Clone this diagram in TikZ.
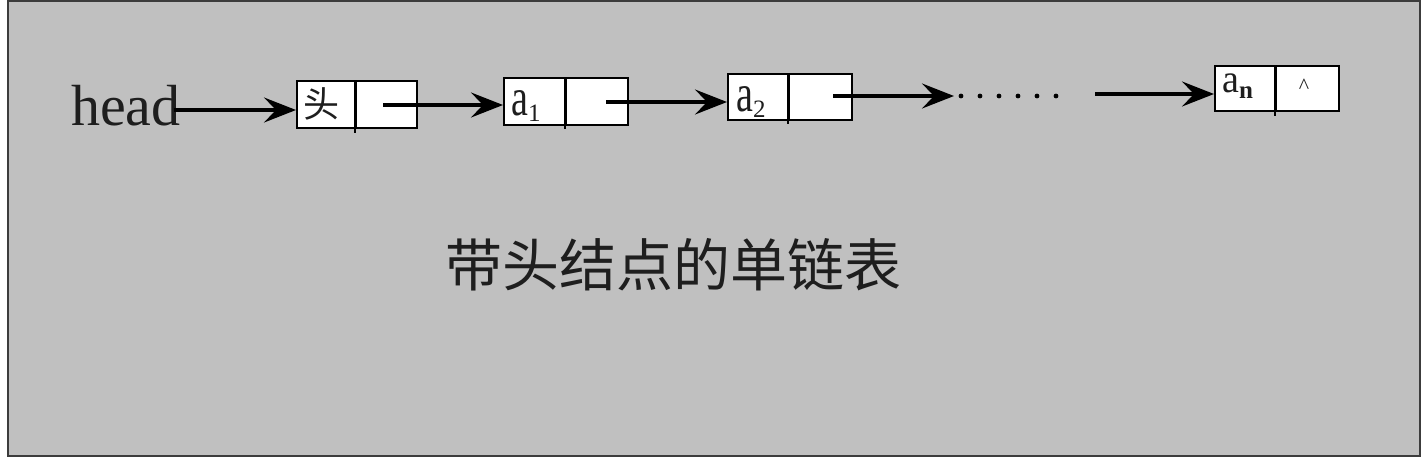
\documentclass[tikz,border=0pt]{standalone}
\usepackage{fontspec}
\setmainfont{Liberation Serif}
\newfontfamily\cjk{Noto Sans CJK SC}
\usetikzlibrary{arrows.meta}
\definecolor{bg}{RGB}{192,192,192}
\definecolor{frameline}{RGB}{60,60,60}
\definecolor{txt}{RGB}{30,30,30}
\begin{document}
\begin{tikzpicture}[x=1pt,y=-1pt,
  cell/.style={draw=black, fill=white, line width=1.5pt, inner sep=0pt, anchor=north west},
  divider/.style={draw=black, line width=1.8pt},
  ptr/.style={line width=3.2pt, -{Stealth[length=32pt,width=25pt,inset=12pt]}},
  sub/.style={font=\fontsize{38}{38}\selectfont, text=txt, inner sep=0pt, anchor=base west}]
\useasboundingbox (0,0) rectangle (1426,459);
\fill[white] (0,0) rectangle (1426,459);
\draw[fill=bg, draw=frameline, line width=2.2pt] (8,1) rectangle (1420,456);

% head label
\node[anchor=base west, inner sep=0pt, font=\fontsize{58}{58}\selectfont, text=txt] (head) at (71,125) {head};

% head node
\node[cell, minimum width=59pt, minimum height=47pt] (d0) at (296,80) {};
\node[cell, minimum width=61pt, minimum height=47pt] (p0) at (355,80) {};
\node[font=\cjk\fontsize{36}{36}\selectfont, text=txt, inner sep=0pt] (t0) at (321,104) {头};

% a1
\node[cell, minimum width=62pt, minimum height=47pt] (d1) at (503,77) {};
\node[cell, minimum width=62pt, minimum height=47pt] (p1) at (565,77) {};
\node[sub] (t1) at (511,115) {\scalebox{1}[1.4]{a}\raisebox{-6pt}{\fontsize{25}{25}\selectfont 1}};

% a2
\node[cell, minimum width=61pt, minimum height=46pt] (d2) at (727,73) {};
\node[cell, minimum width=63pt, minimum height=46pt] (p2) at (788,73) {};
\node[sub] (t2) at (736,111) {\scalebox{1}[1.4]{a}\raisebox{-6pt}{\fontsize{25}{25}\selectfont 2}};

% an
\node[cell, minimum width=61pt, minimum height=45pt] (d3) at (1214,65) {};
\node[cell, minimum width=63pt, minimum height=45pt] (p3) at (1275,65) {};
\node[sub] (t3) at (1222,92) {\scalebox{1}[1.05]{a}\raisebox{-6pt}{\fontsize{25}{25}\selectfont\bfseries n}};
\node[font=\fontsize{22}{22}\selectfont, text=txt, inner sep=0pt] (nil) at (1304,86) {\textasciicircum};

% dividers reaching slightly below the cells
\draw[divider] (p0.north west) -- ([yshift=-4pt]p0.south west);
\draw[divider] (p1.north west) -- ([yshift=-3pt]p1.south west);
\draw[divider] (p2.north west) -- ([yshift=-3pt]p2.south west);
\draw[divider] (p3.north west) -- ([yshift=-4pt]p3.south west);

% pointers
\coordinate (s0) at (174,110);
\coordinate (s1) at (383,105);
\coordinate (s2) at (606,102);
\coordinate (s3) at (833,96);
\coordinate (e3) at (954,96);
\coordinate (s4) at (1095,94);
\draw[ptr] (s0) -- (d0.west |- s0);
\draw[ptr] (s1) -- (d1.west |- s1);
\draw[ptr] (s2) -- (d2.west |- s2);
\draw[ptr] (s3) -- (e3);
\draw[ptr] (s4) -- (d3.west |- s4);

% dots
\foreach \i in {0,...,5} {
  \fill[black] (961+19*\i,96) circle (2.4pt);
}

% caption
\node[font=\cjk\fontsize{57}{57}\selectfont, text=txt, inner sep=0pt] (cap) at (673,265) {带头结点的单链表};
\end{tikzpicture}
\end{document}
